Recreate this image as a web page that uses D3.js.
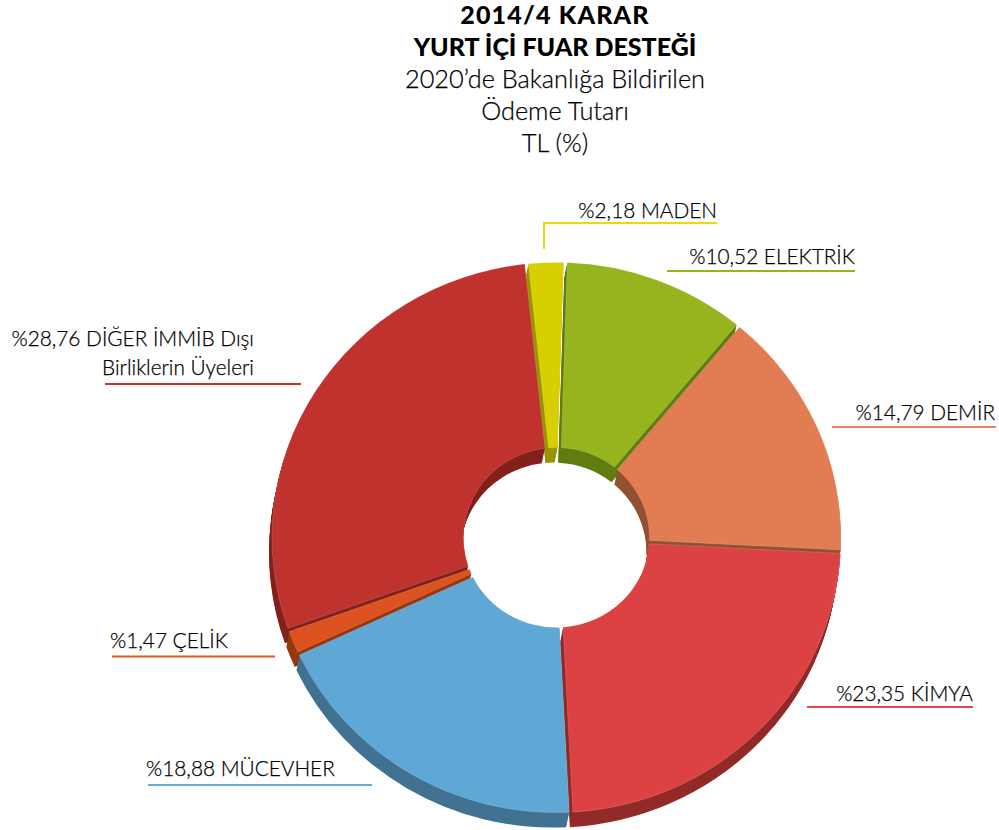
<!DOCTYPE html>
<html>
<head>
<meta charset="utf-8">
<script src="https://cdn.jsdelivr.net/npm/d3@7"></script>
<style>
  html, body { margin: 0; padding: 0; background: #fff; }
  svg { display: block; }
  text { font-family: "Lato", sans-serif; fill: #000; }
  text.light { stroke: #000; stroke-width: 0.25px; }
</style>
</head>
<body>
<div id="Chart"></div>
<script>
// data, clockwise from the top
var sectors = ["ELEKTRİK", "DEMİR", "KİMYA", "MÜCEVHER", "ÇELİK", "DİĞER İMMİB Dışı", "MADEN"];
var shares = [10.52, 14.79, 23.35, 18.88, 1.47, 28.76, 2.18];
var titleBold = ["2014/4 KARAR", "YURT İÇİ FUAR DESTEĞİ"];
var titleLight = ["2020’de Bakanlığa Bildirilen", "Ödeme Tutarı", "TL (%)"];

var topColors = ["#96b41e", "#e27c52", "#dc4144", "#5fa8d6", "#dc5220", "#c0322e", "#d8cf00"];
var wallColors = ["#617d10", "#935232", "#922b28", "#427292", "#97380e", "#84211d", "#9a9400"];
var lineColors = ["#96b41e", "#e8855e", "#e0474a", "#62ade0", "#e8532a", "#c8322e", "#e5dc0a"];

// leader lines: text anchor, baseline, then the rule under the text
var leaders = [
    {x: 855, y: 264, anchor: "end", x1: 667, x2: 855, ly: 271},
    {x: 995, y: 420, anchor: "end", x1: 832, x2: 996, ly: 427},
    {x: 973, y: 701, anchor: "end", x1: 807, x2: 973, ly: 707},
    {x: 146, y: 776, anchor: "start", x1: 148, x2: 372, ly: 785},
    {x: 110, y: 648, anchor: "start", x1: 112, x2: 275, ly: 656.5},
    {x: 254, y: 346, anchor: "end", x1: 105, x2: 301, ly: 384, extra: "Birliklerin Üyeleri"},
    {x: 717, y: 218, anchor: "end", x1: 544, x2: 717, ly: 223, drop: 249}
];

var width = 999, height = 830;
var cx = 556.5, cy = 537.5, outer = 284.5, inner = 93, squash = 0.967, depth = 15;

var svg = d3.select("#Chart").append("svg")
    .attr("width", width)
    .attr("height", height);

// title
var boldSpacing = [1.2, 0];
titleBold.forEach(function(t, i) {
    svg.append("text").attr("x", 555).attr("y", 24 + i * 32)
        .attr("text-anchor", "middle")
        .style("font-size", "25px").style("font-weight", 900)
        .style("letter-spacing", boldSpacing[i] + "px")
        .text(t);
});
titleLight.forEach(function(t, i) {
    svg.append("text").attr("class", "light").attr("x", 555).attr("y", 88 + i * 32)
        .attr("text-anchor", "middle")
        .style("font-size", "25.3px").style("font-weight", 300)
        .text(t);
});

var pie = d3.pie().sort(null)
    .startAngle(1.8 * Math.PI / 180)
    .endAngle((360 + 1.8) * Math.PI / 180);

var arc = d3.arc()
    .innerRadius(inner)
    .outerRadius(outer)
    .padAngle(0.012)
    .padRadius(300);

var slices = pie(shares).map(function(d, i) {
    d.color = topColors[i];
    d.wall = wallColors[i];
    d.mid = (d.startAngle + d.endAngle) / 2;
    return d;
});

// paint back to front so the nearer slices cover the walls behind them
slices.sort(function(a, b) { return Math.cos(b.mid) - Math.cos(a.mid); });

var layers = d3.range(depth, 0, -1);
slices.forEach(function(d) {
    var g = svg.append("g");
    g.selectAll("path.wall")
        .data(layers)
        .enter().append("path")
        .attr("class", "wall")
        .attr("d", arc(d))
        .attr("fill", d.wall)
        .attr("transform", function(k) {
            return "translate(" + (cx - k * 0.2) + "," + (cy + k) + ") scale(1," + squash + ")";
        });
    g.append("path")
        .attr("d", arc(d))
        .attr("fill", d.color)
        .attr("stroke", "#fff")
        .attr("stroke-opacity", 0.3)
        .attr("stroke-width", 0.5)
        .attr("transform", "translate(" + cx + "," + cy + ") scale(1," + squash + ")");
});

// labels and their rules
var fmt = function(v) { return "%" + v.toFixed(2).replace(".", ","); };
leaders.forEach(function(l, i) {
    svg.append("text").attr("class", "light").attr("x", l.x).attr("y", l.y)
        .attr("text-anchor", l.anchor)
        .style("font-size", "20.8px").style("font-weight", 300)
        .text(fmt(shares[i]) + " " + sectors[i]);
    if (l.extra) {
        svg.append("text").attr("class", "light").attr("x", l.x).attr("y", l.y + 29)
            .attr("text-anchor", l.anchor)
            .style("font-size", "20.8px").style("font-weight", 300)
            .text(l.extra);
    }
    var pts = [[l.x2, l.ly], [l.x1, l.ly]];
    if (l.drop) pts.push([l.x1, l.drop]);
    svg.append("path")
        .attr("d", d3.line()(pts))
        .attr("fill", "none")
        .attr("stroke", lineColors[i])
        .attr("stroke-width", 2);
});
</script>
</body>
</html>
